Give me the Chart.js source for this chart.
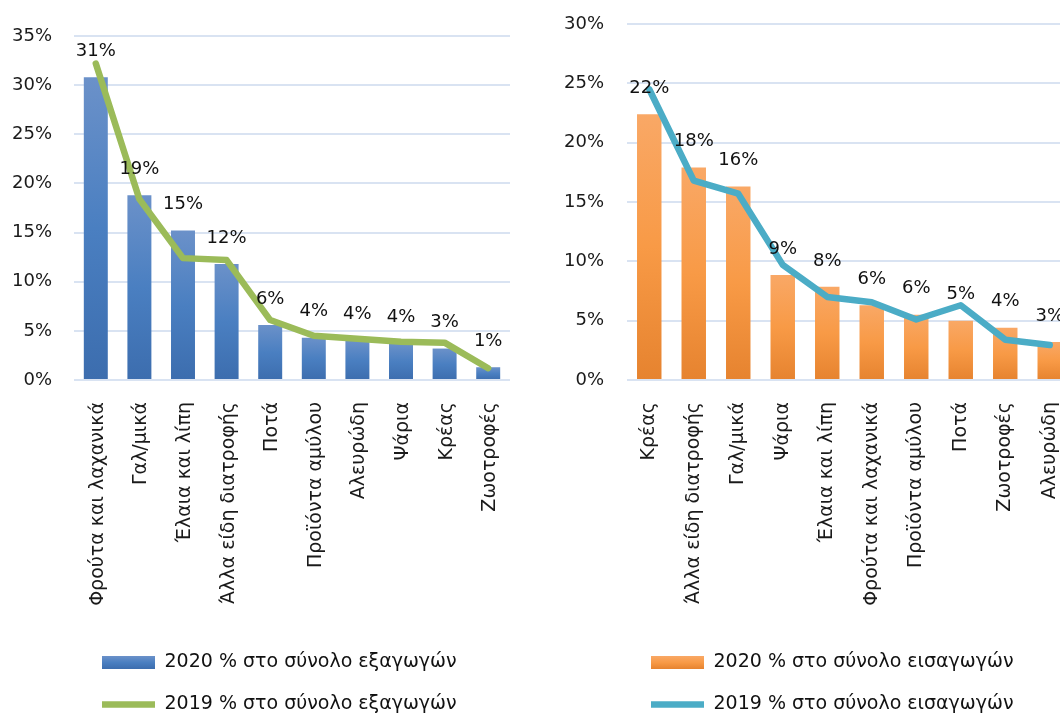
<!DOCTYPE html>
<html>
<head>
<meta charset="utf-8">
<script src="https://cdn.jsdelivr.net/npm/chart.js@4.4.0/dist/chart.umd.min.js"></script>
<style>
  html, body { margin: 0; padding: 0; background: #fff; }
  body { width: 1060px; height: 715px; overflow: hidden; position: relative; }
  #leftWrap { position: absolute; left: 0; top: 0; width: 558px; height: 724px; }
  #rightWrap { position: absolute; left: 540px; top: 0; width: 587px; height: 724px; }
</style>
</head>
<body>
<div id="leftWrap"><canvas id="exports" width="558" height="724"></canvas></div>
<div id="rightWrap"><canvas id="imports" width="587" height="724"></canvas></div>
<script>
// ---------- DATA ----------
const exportCategories = ['Φρούτα και λαχανικά', 'Γαλ/μικά', 'Έλαια και λίπη', 'Άλλα είδη διατροφής', 'Ποτά', 'Προϊόντα αμύλου', 'Αλευρώδη', 'Ψάρια', 'Κρέας', 'Ζωοτροφές'];
const exports2020 = [30.8, 18.8, 15.2, 11.8, 5.6, 4.3, 4.0, 3.7, 3.2, 1.3];
const exports2019 = [32.2, 18.4, 12.4, 12.2, 6.1, 4.5, 4.2, 3.9, 3.8, 1.2];

const importCategories = ['Κρέας', 'Άλλα είδη διατροφής', 'Γαλ/μικά', 'Ψάρια', 'Έλαια και λίπη', 'Φρούτα και λαχανικά', 'Προϊόντα αμύλου', 'Ποτά', 'Ζωοτροφές', 'Αλευρώδη'];
const imports2020 = [22.4, 17.9, 16.3, 8.85, 7.85, 6.3, 5.5, 5.0, 4.4, 3.2];
const imports2019 = [24.5, 16.8, 15.7, 9.7, 7.0, 6.55, 5.1, 6.3, 3.4, 2.95];

const exportLabels = ['2020 % στο σύνολο εξαγωγών', '2019 % στο σύνολο εξαγωγών'];
const importLabels = ['2020 % στο σύνολο εισαγωγών', '2019 % στο σύνολο εισαγωγών'];

const exportMax = 35;
const importMax = 30;
const tickStep = 5;

// ---------- STYLE ----------
const FONT = '"DejaVu Sans", "Liberation Sans", sans-serif';
const TEXT = '#1a1a1a';
const GRID = '#d9e3f2';
const blueStops = ['#6b91c9', '#4a7fc1', '#3c6dae'];
const orangeStops = ['#f9a866', '#f89a46', '#e6832f'];
const LEGEND_FONT = 19;
const LEGEND_PAD = 23;
const LEGEND_BOX_H = 13;

function barGradient(stops) {
  return (ctx) => {
    const chart = ctx.chart;
    const area = chart.chartArea;
    if (!area || ctx.type !== 'data' || !chart.scales.y) return stops[1];
    const yScale = chart.scales.y;
    const top = yScale.getPixelForValue(ctx.raw);
    const bottom = yScale.getPixelForValue(0);
    if (!isFinite(top) || !isFinite(bottom) || bottom - top < 1) return stops[1];
    const g = chart.ctx.createLinearGradient(0, top, 0, bottom);
    g.addColorStop(0, stops[0]);
    g.addColorStop(0.5, stops[1]);
    g.addColorStop(1, stops[2]);
    return g;
  };
}

const barLabels = {
  id: 'barLabels',
  afterDatasetsDraw(chart) {
    const ctx = chart.ctx;
    const meta = chart.getDatasetMeta(0);
    const data = chart.data.datasets[0].data;
    ctx.save();
    ctx.font = '18px ' + FONT;
    ctx.fillStyle = '#111';
    ctx.textAlign = 'center';
    ctx.textBaseline = 'middle';
    meta.data.forEach((bar, i) => {
      ctx.fillText(Math.round(data[i]) + '%', bar.x, bar.y - 26);
    });
    ctx.restore();
  }
};

const legendPlace = {
  id: 'legendPlace',
  afterLayout(chart, args, opts) {
    const L = chart.legend;
    if (!L) return;
    const w = L.right - L.left;
    L.left = opts.left;
    L.right = opts.left + w;
  },
  afterUpdate(chart, args, opts) {
    const L = chart.legend;
    if (!L) return;
    const itemH = Math.max(LEGEND_FONT, LEGEND_BOX_H);
    const cy = L.top + LEGEND_PAD + itemH / 2;
    const y0 = cy - LEGEND_BOX_H / 2, y1 = cy + LEGEND_BOX_H / 2;
    (L.legendItems || []).forEach((item) => {
      if (item.datasetIndex === 0) {
        const g = chart.ctx.createLinearGradient(0, y0, 0, y1);
        g.addColorStop(0, opts.stops[0]);
        g.addColorStop(0.5, opts.stops[1]);
        g.addColorStop(1, opts.stops[2]);
        item.fillStyle = g;
      }
    });
  }
};

function makeChart(id, cats, v2020, v2019, labels, max, stops, lineColor, cfg) {
  return new Chart(document.getElementById(id), {
    type: 'bar',
    data: {
      labels: cats,
      datasets: [
        {
          type: 'bar',
          label: labels[0],
          data: v2020,
          backgroundColor: barGradient(stops),
          borderWidth: 0,
          barPercentage: 0.55,
          categoryPercentage: 1.0,
          pointStyle: 'rect',
          order: 2
        },
        {
          type: 'line',
          label: labels[1],
          data: v2019,
          borderColor: lineColor,
          backgroundColor: lineColor,
          borderWidth: 6.5,
          borderCapStyle: 'round',
          borderJoinStyle: 'round',
          tension: 0,
          pointRadius: 0,
          pointHoverRadius: 0,
          pointStyle: 'line',
          fill: false,
          order: 1
        }
      ]
    },
    options: {
      responsive: false,
      animation: false,
      devicePixelRatio: 1,
      layout: { autoPadding: false, padding: { left: 0, right: cfg.padRight, top: cfg.padTop, bottom: 0 } },
      plugins: {
        tooltip: { enabled: false },
        legend: {
          position: 'bottom',
          align: 'start',
          labels: {
            font: { family: FONT, size: LEGEND_FONT },
            color: '#111',
            usePointStyle: true,
            pointStyleWidth: 53,
            boxHeight: LEGEND_BOX_H,
            padding: LEGEND_PAD,
            sort: (a, b) => a.datasetIndex - b.datasetIndex
          }
        },
        legendPlace: { left: cfg.legendLeft, stops: stops }
      },
      scales: {
        x: {
          grid: { display: false },
          border: { display: false },
          ticks: {
            autoSkip: false,
            minRotation: 90,
            maxRotation: 90,
            padding: 14,
            labelOffset: cfg.xLabelOffset,
            color: TEXT,
            font: { family: FONT, size: 19 }
          },
          afterFit: (s) => { s.height = 250; s.paddingLeft = 0; s.paddingRight = 0; }
        },
        y: {
          min: 0,
          max: max,
          grid: { color: GRID, lineWidth: 2, drawTicks: false },
          border: { display: false },
          ticks: {
            stepSize: tickStep,
            padding: cfg.tickPad,
            color: TEXT,
            font: { family: FONT, size: 18 },
            callback: (v) => v + '%'
          },
          afterFit: (s) => { s.width = cfg.yWidth; s.paddingTop = 0; s.paddingBottom = 0; }
        }
      }
    },
    plugins: [barLabels, legendPlace]
  });
}

makeChart('exports', exportCategories, exports2020, exports2019, exportLabels, exportMax, blueStops, '#9bbb59',
  { padRight: 48, padTop: 36, yWidth: 74, tickPad: 22, legendLeft: 79, xLabelOffset: 2 });
makeChart('imports', importCategories, imports2020, imports2019, importLabels, importMax, orangeStops, '#4bacc6',
  { padRight: 55, padTop: 24, yWidth: 87, tickPad: 23, legendLeft: 88, xLabelOffset: 0 });
</script>
</body>
</html>
